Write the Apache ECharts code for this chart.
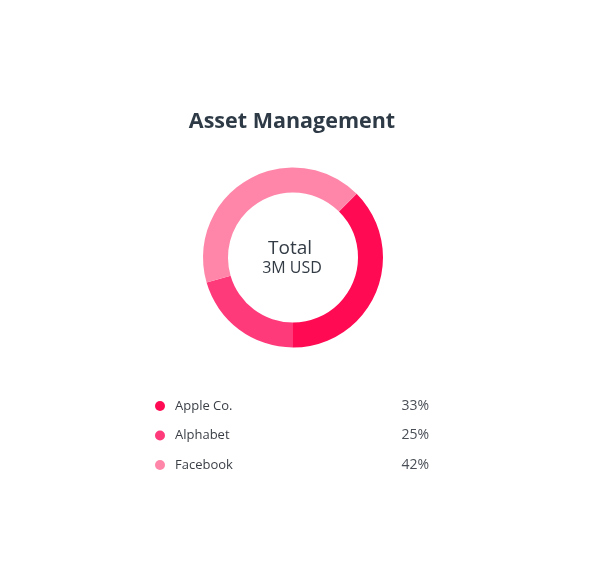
<!DOCTYPE html>
<html><head><meta charset="utf-8">
<script src="https://cdn.jsdelivr.net/npm/echarts@6/dist/echarts.min.js"></script>
<style>html,body{margin:0;padding:0;background:#fff}#c{width:595px;height:580px}</style>
</head><body><div id="c"></div>
<script>
const titleText = 'Asset Management';
const centerLine1 = 'Total';
const centerLine2 = '3M USD';
const categories = ['Apple Co.', 'Alphabet', 'Facebook'];
// slice sizes as drawn in the ring (degrees share)
const sliceValues = [37.5, 20.5, 42];
// percentages printed in the legend
const pctLabels = ['33%', '25%', '42%'];
const colors = ['#ff0a53', '#ff3a7b', '#ff86a9'];

const chart = echarts.init(document.getElementById('c'), null, {renderer: 'canvas'});
const pctMap = {};
categories.forEach((c, i) => pctMap[c] = pctLabels[i]);

chart.setOption({
  animation: false,
  color: colors,
  title: [{
    text: titleText, left: 287, top: 106, textAlign: 'center',
    textStyle: {fontFamily: 'Open Sans', fontWeight: 'bold', fontSize: 21.5, color: '#2e3b47'}
  }, {
    text: centerLine1, left: 285, top: 234, textAlign: 'center',
    textStyle: {fontFamily: 'Open Sans', fontWeight: 'normal', fontSize: 19, color: '#333b44'}
  }, {
    text: centerLine2, left: 287, top: 255, textAlign: 'center',
    textStyle: {fontFamily: 'Open Sans', fontWeight: 'normal', fontSize: 16, color: '#333b44'}
  }],
  legend: {
    orient: 'vertical', left: 150, top: 394,
    icon: 'circle', itemWidth: 10, itemHeight: 10, itemGap: 15.5,
    data: categories,
    formatter: name => '{n|' + name + '}{p|' + pctMap[name] + '}',
    textStyle: {
      rich: {
        n: {width: 225, padding: [0, 0, 0, 5], fontFamily: 'Open Sans', fontSize: 13, color: '#3a3f46'},
        p: {width: 29, align: 'right', fontFamily: 'Open Sans', fontSize: 14, color: '#4a4f56'}
      }
    }
  },
  series: [{
    type: 'pie',
    center: [293, 257.5],
    radius: [65, 90],
    startAngle: 45,
    clockwise: true,
    label: {show: false},
    labelLine: {show: false},
    emphasis: {disabled: true},
    itemStyle: {borderWidth: 0},
    data: categories.map((c, i) => ({name: c, value: sliceValues[i]}))
  }]
});
</script></body></html>
